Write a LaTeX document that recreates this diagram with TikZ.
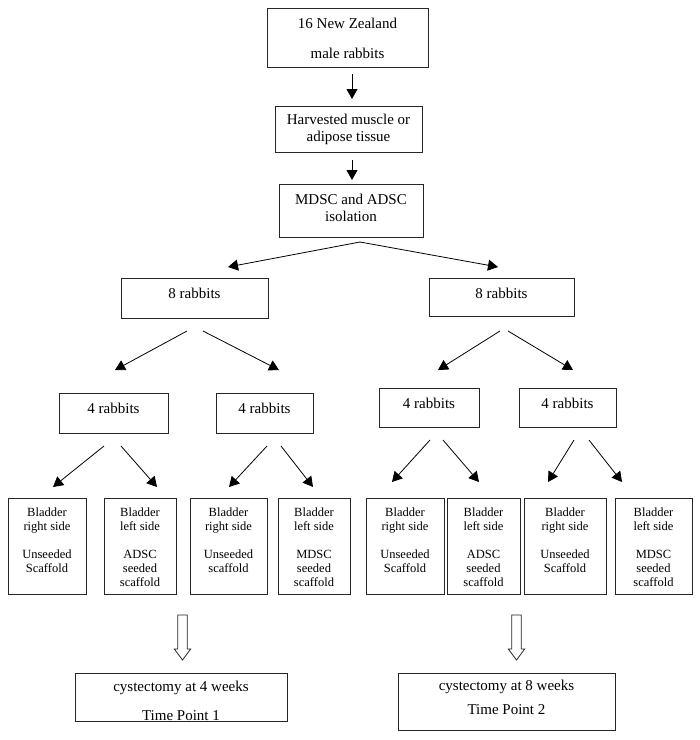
\documentclass[tikz,border=0pt]{standalone}
\usepackage{fontspec}
\setmainfont{Liberation Serif}
\usetikzlibrary{arrows.meta}
\begin{document}
\begin{tikzpicture}[x=1pt,y=-1pt,
  box/.style={draw=black!85,line width=0.8pt,inner sep=0pt,rectangle},
  big/.style={font=\fontsize{15}{17}\selectfont,align=center,inner sep=0pt},
  small/.style={font=\fontsize{12.5}{14}\selectfont,align=center,inner sep=0pt,anchor=north},
  arr/.style={line width=0.8pt,-{Triangle[length=10pt,width=11pt]}},
  openarr/.style={draw=black!85,line width=0.8pt,fill=white}
]
\useasboundingbox (0,0) rectangle (700,740);

% top chain
\node[box,minimum width=161pt,minimum height=59pt] (A) at (347.5,37.5) {};
\node[big,font=\fontsize{15}{30}\selectfont] (At) at (347.5,38) {16 New Zealand\\male rabbits};
\node[box,minimum width=147pt,minimum height=46pt] (B) at (348.5,129) {};
\node[big] (Bt) at (348.5,129) {Harvested muscle or\\adipose tissue};
\node[box,minimum width=144pt,minimum height=53pt] (C) at (351,210.5) {};
\node[big] (Ct) at (351,207.5) {MDSC and ADSC\\isolation};

% second level
\node[box,minimum width=147pt,minimum height=40pt] (L8) at (194.5,298) {};
\node[big] (L8t) at (194.5,293.5) {8 rabbits};
\node[box,minimum width=145pt,minimum height=38pt] (R8) at (501.5,297) {};
\node[big] (R8t) at (501.5,293.5) {8 rabbits};

% third level
\node[box,minimum width=109pt,minimum height=40pt] (Fa) at (113.5,413) {};
\node[big] (Fat) at (113.5,408.5) {4 rabbits};
\node[box,minimum width=97pt,minimum height=40pt] (Fb) at (264.5,413) {};
\node[big] (Fbt) at (264.5,408.5) {4 rabbits};
\node[box,minimum width=100pt,minimum height=39pt] (Fc) at (429,407.5) {};
\node[big] (Fct) at (429,403.5) {4 rabbits};
\node[box,minimum width=97pt,minimum height=39pt] (Fd) at (567.5,407.5) {};
\node[big] (Fdt) at (567.5,403.5) {4 rabbits};

% bottom boxes
\node[box,minimum width=78pt,minimum height=96pt] (b1) at (47,546) {};
\node[box,minimum width=72pt,minimum height=96pt] (b2) at (140,546) {};
\node[box,minimum width=77pt,minimum height=96pt] (b3) at (228.5,546) {};
\node[box,minimum width=72pt,minimum height=96pt] (b4) at (314,546) {};
\node[box,minimum width=78pt,minimum height=96pt] (b5) at (405,546) {};
\node[box,minimum width=73pt,minimum height=96pt] (b6) at (483.5,546) {};
\node[box,minimum width=82pt,minimum height=96pt] (b7) at (565,546) {};
\node[box,minimum width=77pt,minimum height=96pt] (b8) at (653.5,546) {};
\node[small] (b1t) at (47,507.5) {Bladder\\right side\\[14pt]Unseeded\\Scaffold};
\node[small] (b2t) at (140,507.5) {Bladder\\left side\\[14pt]ADSC\\seeded\\scaffold};
\node[small] (b3t) at (228.5,507.5) {Bladder\\right side\\[14pt]Unseeded\\scaffold};
\node[small] (b4t) at (314,507.5) {Bladder\\left side\\[14pt]MDSC\\seeded\\scaffold};
\node[small] (b5t) at (405,507.5) {Bladder\\right side\\[14pt]Unseeded\\Scaffold};
\node[small] (b6t) at (483.5,507.5) {Bladder\\left side\\[14pt]ADSC\\seeded\\scaffold};
\node[small] (b7t) at (565,507.5) {Bladder\\right side\\[14pt]Unseeded\\Scaffold};
\node[small] (b8t) at (653.5,507.5) {Bladder\\left side\\[14pt]MDSC\\seeded\\scaffold};

% time point boxes
\node[big] (T1a) at (181,688) {cystectomy at 4 weeks};
\node[big] (T1b) at (181,716) {Time Point 1};
\node[box,minimum width=212pt,minimum height=48pt] (T1) at (181,697) {};
\node[box,minimum width=217pt,minimum height=57pt] (T2) at (506.5,701.5) {};
\node[big] (T2a) at (506.5,687) {cystectomy at 8 weeks};
\node[big] (T2b) at (506.5,710) {Time Point 2};

% arrow end coordinates
\coordinate (a1s) at (352,74);  \coordinate (a1e) at (352,99);
\coordinate (a2s) at (352,160); \coordinate (a2e) at (352,180);
\coordinate (sp) at (360,242);
\coordinate (spL) at (228,267); \coordinate (spR) at (498,267);
\coordinate (l8a) at (187,331); \coordinate (l8ae) at (115,370);
\coordinate (l8b) at (203,331); \coordinate (l8be) at (279,370);
\coordinate (r8a) at (500,331); \coordinate (r8ae) at (438,370);
\coordinate (r8b) at (508,331); \coordinate (r8be) at (573,370);
\coordinate (fa1) at (104,446); \coordinate (fa1e) at (53,487);
\coordinate (fa2) at (121,446); \coordinate (fa2e) at (157,487);
\coordinate (fb1) at (267,446); \coordinate (fb1e) at (229,487);
\coordinate (fb2) at (281,446); \coordinate (fb2e) at (313,487);
\coordinate (fc1) at (430,440); \coordinate (fc1e) at (392,482);
\coordinate (fc2) at (443,440); \coordinate (fc2e) at (479,482);
\coordinate (fd1) at (574,440); \coordinate (fd1e) at (548,482);
\coordinate (fd2) at (589,440); \coordinate (fd2e) at (622,482);

\draw[arr] (a1s) -- (a1e);
\draw[arr] (a2s) -- (a2e);
\draw[arr] (sp) -- (spL);
\draw[arr] (sp) -- (spR);
\draw[arr] (l8a) -- (l8ae);
\draw[arr] (l8b) -- (l8be);
\draw[arr] (r8a) -- (r8ae);
\draw[arr] (r8b) -- (r8be);
\draw[arr] (fa1) -- (fa1e);
\draw[arr] (fa2) -- (fa2e);
\draw[arr] (fb1) -- (fb1e);
\draw[arr] (fb2) -- (fb2e);
\draw[arr] (fc1) -- (fc1e);
\draw[arr] (fc2) -- (fc2e);
\draw[arr] (fd1) -- (fd1e);
\draw[arr] (fd2) -- (fd2e);

% open block arrows
\coordinate (o1) at (182.5,615);
\coordinate (o2) at (516.5,615);
\draw[openarr] (o1) ++(-4.7,0) -- ++(0,34) -- ++(-3.5,0) -- ++(8.2,11) -- ++(8.2,-11) -- ++(-3.5,0) -- ++(0,-34) -- cycle;
\draw[openarr] (o2) ++(-4.7,0) -- ++(0,34) -- ++(-3.5,0) -- ++(8.2,11) -- ++(8.2,-11) -- ++(-3.5,0) -- ++(0,-34) -- cycle;
\end{tikzpicture}
\end{document}
